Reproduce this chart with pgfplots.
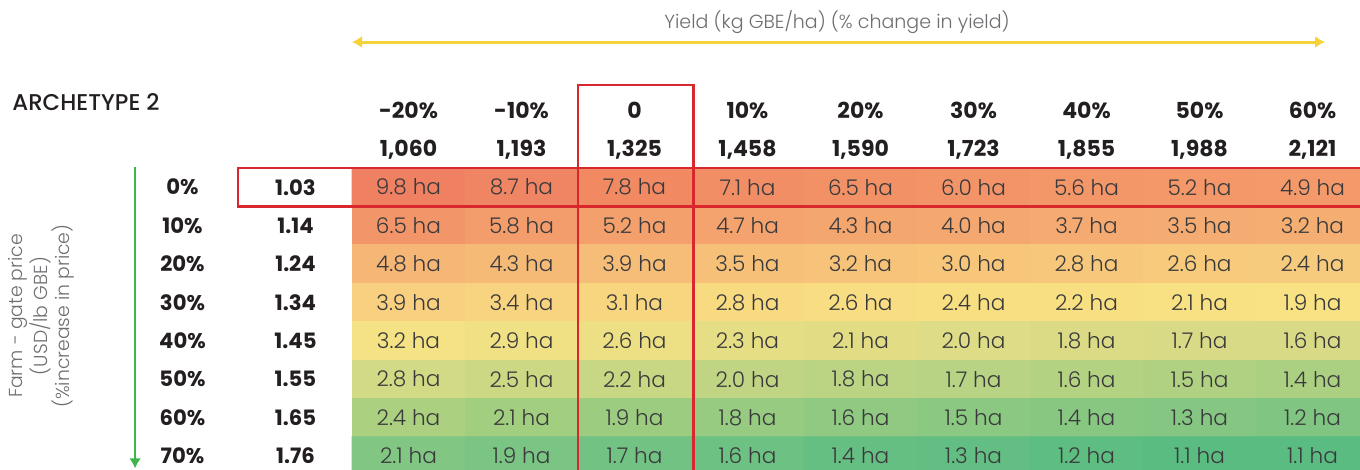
\documentclass[border=0pt]{standalone}
\usepackage{pgfplots}
\pgfplotsset{compat=1.18}
\usepackage{pgfplotstable}
\usetikzlibrary{arrows.meta}
\usepackage{fontspec}
\setmainfont{Poppins}
\IfFontExistsTF{Poppins Light}{\newfontfamily\lightfont{Poppins Light}}{\newfontfamily\lightfont{Poppins}}
\IfFontExistsTF{Poppins Medium}{\newfontfamily\mediumfont{Poppins Medium}}{\newfontfamily\mediumfont{Poppins}}
\definecolor{boxred}{HTML}{D9272E}
\definecolor{arrowyellow}{HTML}{F6D23A}
\definecolor{arrowgreen}{HTML}{3DB54A}
\definecolor{celltext}{HTML}{3A3A3C}
\definecolor{headtext}{HTML}{231F20}
\definecolor{sidegray}{HTML}{6D6E71}

\pgfplotstableread{
x y c v
0 0 rgb255=240,128,98 9.8
1 0 rgb255=240,133,100 8.7
2 0 rgb255=241,138,99 7.8
3 0 rgb255=242,142,101 7.1
4 0 rgb255=243,145,102 6.5
5 0 rgb255=243,148,104 6.0
6 0 rgb255=243,150,104 5.6
7 0 rgb255=244,152,105 5.2
8 0 rgb255=244,154,106 4.9
0 1 rgb255=242,150,106 6.5
1 1 rgb255=243,156,108 5.8
2 1 rgb255=244,160,109 5.2
3 1 rgb255=244,163,110 4.7
4 1 rgb255=244,166,111 4.3
5 1 rgb255=244,168,112 4.0
6 1 rgb255=244,170,113 3.7
7 1 rgb255=245,172,114 3.5
8 1 rgb255=245,174,114 3.2
0 2 rgb255=245,182,118 4.8
1 2 rgb255=246,186,119 4.3
2 2 rgb255=246,189,120 3.9
3 2 rgb255=246,192,121 3.5
4 2 rgb255=247,195,122 3.2
5 2 rgb255=247,198,123 3.0
6 2 rgb255=247,200,124 2.8
7 2 rgb255=247,202,124 2.6
8 2 rgb255=247,203,125 2.4
0 3 rgb255=248,208,127 3.9
1 3 rgb255=248,212,128 3.4
2 3 rgb255=248,214,128 3.1
3 3 rgb255=248,218,129 2.8
4 3 rgb255=248,221,130 2.6
5 3 rgb255=248,223,130 2.4
6 3 rgb255=248,224,130 2.2
7 3 rgb255=248,225,131 2.1
8 3 rgb255=248,226,131 1.9
0 4 rgb255=244,226,132 3.2
1 4 rgb255=240,225,132 2.9
2 4 rgb255=237,224,132 2.6
3 4 rgb255=230,222,133 2.3
4 4 rgb255=226,221,133 2.1
5 4 rgb255=222,220,134 2.0
6 4 rgb255=219,219,134 1.8
7 4 rgb255=217,218,134 1.7
8 4 rgb255=216,218,134 1.6
0 5 rgb255=211,218,133 2.8
1 5 rgb255=205,216,132 2.5
2 5 rgb255=200,215,132 2.2
3 5 rgb255=192,213,131 2.0
4 5 rgb255=186,212,131 1.8
5 5 rgb255=183,211,131 1.7
6 5 rgb255=179,210,130 1.6
7 5 rgb255=176,209,130 1.5
8 5 rgb255=172,208,130 1.4
0 6 rgb255=170,208,128 2.4
1 6 rgb255=162,206,128 2.1
2 6 rgb255=156,204,128 1.9
3 6 rgb255=150,203,129 1.8
4 6 rgb255=143,201,130 1.6
5 6 rgb255=139,200,130 1.5
6 6 rgb255=135,199,130 1.4
7 6 rgb255=132,198,130 1.3
8 6 rgb255=128,197,130 1.2
0 7 rgb255=130,198,132 2.1
1 7 rgb255=122,196,132 1.9
2 7 rgb255=114,194,131 1.7
3 7 rgb255=108,193,131 1.6
4 7 rgb255=102,191,130 1.4
5 7 rgb255=98,190,130 1.3
6 7 rgb255=94,189,129 1.2
7 7 rgb255=91,188,129 1.1
8 7 rgb255=90,188,129 1.1
}\cells

\tikzset{hd/.style={font=\bfseries\fontsize{11}{13}\selectfont, text=headtext},
         rl/.style={font=\bfseries\fontsize{10.6}{13}\selectfont, text=headtext}}

\begin{document}
\begin{tikzpicture}
\begin{axis}[
  scale only axis,
  width=680pt, height=235pt,
  xmin=-3.615, xmax=8.4204,
  ymin=-4.875, ymax=7.3646,
  y dir=reverse,
  hide axis,
  clip=true,
  /pgf/number format/assume math mode=true,
]
% heat map cells
\addplot[matrix plot*, mesh/cols=9, mesh/color input=explicit, point meta=explicit symbolic]
  table[x=x, y=y, meta=c] {\cells};
% cell values
\addplot[only marks, mark=none, point meta=explicit,
  nodes near coords={\lightfont\pgfmathprintnumber[fixed,precision=1,zerofill,assume math mode=true]{\pgfplotspointmeta}~ha},
  nodes near coords style={anchor=center, font=\lightfont\fontsize{10.8}{12}\selectfont, text=celltext}]
  table[x=x, y=y, meta=v] {\cells};

% column headers
\node[hd] at (axis cs:0,-2.01) {-20\%};
\node[hd] at (axis cs:1,-2.01) {-10\%};
\node[hd] at (axis cs:2,-2.01) {0};
\node[hd] at (axis cs:3,-2.01) {10\%};
\node[hd] at (axis cs:4,-2.01) {20\%};
\node[hd] at (axis cs:5,-2.01) {30\%};
\node[hd] at (axis cs:6,-2.01) {40\%};
\node[hd] at (axis cs:7,-2.01) {50\%};
\node[hd] at (axis cs:8,-2.01) {60\%};
\node[hd] at (axis cs:0,-0.97) {1,060};
\node[hd] at (axis cs:1,-0.97) {1,193};
\node[hd] at (axis cs:2,-0.97) {1,325};
\node[hd] at (axis cs:3,-0.97) {1,458};
\node[hd] at (axis cs:4,-0.97) {1,590};
\node[hd] at (axis cs:5,-0.97) {1,723};
\node[hd] at (axis cs:6,-0.97) {1,855};
\node[hd] at (axis cs:7,-0.97) {1,988};
\node[hd] at (axis cs:8,-0.97) {2,121};
% row labels
\node[rl] at (axis cs:-2,0) {0\%};
\node[rl] at (axis cs:-2,1) {10\%};
\node[rl] at (axis cs:-2,2) {20\%};
\node[rl] at (axis cs:-2,3) {30\%};
\node[rl] at (axis cs:-2,4) {40\%};
\node[rl] at (axis cs:-2,5) {50\%};
\node[rl] at (axis cs:-2,6) {60\%};
\node[rl] at (axis cs:-2,7) {70\%};
\node[rl] at (axis cs:-1,0) {1.03};
\node[rl] at (axis cs:-1,1) {1.14};
\node[rl] at (axis cs:-1,2) {1.24};
\node[rl] at (axis cs:-1,3) {1.34};
\node[rl] at (axis cs:-1,4) {1.45};
\node[rl] at (axis cs:-1,5) {1.55};
\node[rl] at (axis cs:-1,6) {1.65};
\node[rl] at (axis cs:-1,7) {1.76};
% title and archetype
\node[font=\lightfont\fontsize{9.5}{11}\selectfont, text=sidegray] at (axis cs:3.792,-4.302) {Yield (kg GBE/ha) (\% change in yield)};
\node[anchor=west, font=\mediumfont\fontsize{11.4}{13}\selectfont, text=headtext, inner sep=0pt] at (axis cs:-3.509,-2.206) {ARCHETYPE 2};
% yellow arrow
\draw[arrowyellow, line width=1.5pt, {Latex[length=5pt,width=6pt]}-{Latex[length=5pt,width=6pt]}] (axis cs:-0.5,-3.781) -- (axis cs:8.111,-3.781);
% green arrow
\draw[arrowgreen, line width=1.2pt, -{Latex[length=5pt,width=6pt]}] (axis cs:-2.42,-0.526) -- (axis cs:-2.42,7.32);
% side label
\node[rotate=90, align=center, font=\lightfont\fontsize{9.4}{11}\selectfont, text=sidegray] at (axis cs:-3.252,3.354) {Farm - gate price\\(USD/lb GBE)\\(\%increase in price)};
% red boxes
\draw[boxred, line width=1.25pt] (axis cs:1.5,8) -- (axis cs:1.5,-2.66) -- (axis cs:2.52,-2.66) -- (axis cs:2.52,8);
\draw[boxred, line width=1.25pt] (axis cs:9,-0.5) -- (axis cs:-1.51,-0.5) -- (axis cs:-1.51,0.5) -- (axis cs:9,0.5);
\end{axis}
\pgfresetboundingbox
\path[use as bounding box] (current axis.south west) rectangle (current axis.north east);
\end{tikzpicture}
\end{document}
